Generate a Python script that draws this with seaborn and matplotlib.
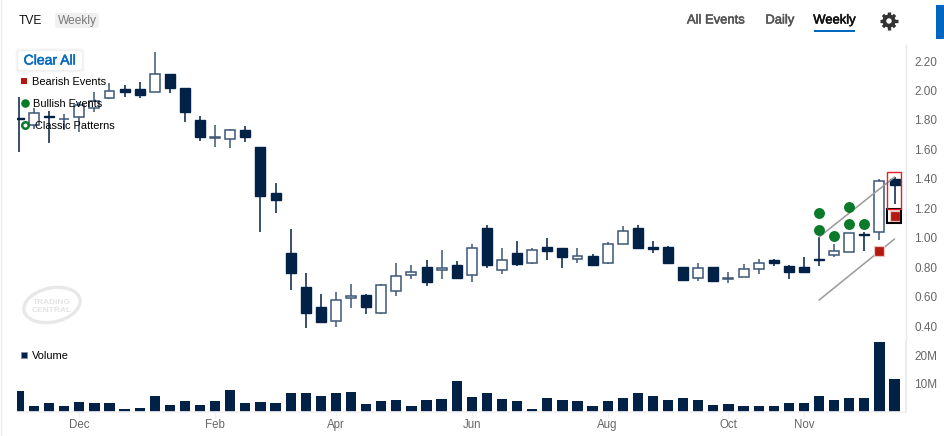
import matplotlib
matplotlib.use("Agg")
import matplotlib.pyplot as plt
import matplotlib.patheffects as pe
from matplotlib.patches import Rectangle, Ellipse, FancyBboxPatch, Circle
import numpy as np
import pandas as pd
import seaborn as sns

highs = [1.955,1.881,1.860,1.840,1.921,1.989,2.051,2.037,2.057,2.261,2.112,2.017,1.826,1.765,1.738,1.758,1.616,1.371,1.059,0.760,
         0.617,0.631,0.685,0.617,0.685,0.828,0.814,0.848,0.916,0.841,0.957,1.086,0.930,0.977,0.930,0.998,0.930,0.930,0.889,0.970,
         1.079,1.086,0.977,0.943,0.801,0.828,0.801,0.767,0.821,0.855,0.855,0.814,0.869,1.004,0.957,1.032,1.038,1.398,1.412]
lows = [1.582,1.738,1.643,1.731,1.718,1.854,1.942,1.955,1.949,1.989,1.983,1.786,1.657,1.616,1.609,1.650,1.038,1.167,0.644,0.386,
        0.427,0.393,0.522,0.481,0.481,0.604,0.719,0.672,0.719,0.726,0.699,0.794,0.753,0.807,0.821,0.848,0.794,0.828,0.807,0.821,
        0.957,0.930,0.896,0.821,0.712,0.706,0.706,0.692,0.733,0.753,0.807,0.719,0.760,0.807,0.869,0.903,0.909,0.984,1.229]
opens = [1.816,1.765,1.826,1.803,1.820,1.881,1.949,2.010,2.010,1.989,2.112,2.017,1.799,1.677,1.670,1.731,1.616,1.303,0.896,0.665,
         0.529,0.434,0.590,0.610,0.488,0.638,0.746,0.801,0.780,0.814,0.746,1.066,0.780,0.896,0.828,0.936,0.930,0.855,0.875,0.828,
         0.957,1.066,0.936,0.936,0.801,0.726,0.801,0.719,0.733,0.787,0.848,0.807,0.801,0.855,0.882,0.903,1.025,1.038,1.398]
closes = [1.809,1.847,1.820,1.808,1.901,1.928,1.996,1.989,1.969,2.112,2.017,1.854,1.684,1.684,1.731,1.684,1.283,1.256,0.760,0.488,
          0.427,0.576,0.604,0.529,0.678,0.740,0.767,0.699,0.794,0.726,0.930,0.814,0.848,0.821,0.916,0.909,0.869,0.875,0.814,0.957,
          1.045,0.930,0.923,0.828,0.712,0.794,0.706,0.726,0.787,0.828,0.828,0.767,0.767,0.848,0.909,1.032,1.018,1.385,1.358]
volumes_m = [7.3,1.8,3.2,2.0,3.5,3.0,3.2,1.0,1.1,5.6,2.3,3.6,2.5,3.9,7.6,3.0,3.5,3.0,6.7,6.5,
             5.4,6.7,7.0,2.6,3.8,4.2,1.8,4.3,4.4,11.0,5.1,6.7,4.4,3.6,1.0,5.0,4.3,3.8,1.8,3.8,
             5.0,6.6,5.6,4.3,4.9,4.1,2.5,2.7,1.8,1.9,1.9,3.0,2.9,5.6,4.2,4.9,4.7,25.0,11.8]
month_pos = [4, 13, 21, 30, 39, 47, 52]
month_labels = ["Dec", "Feb", "Apr", "Jun", "Aug", "Oct", "Nov"]
price_ticks = [0.40, 0.60, 0.80, 1.00, 1.20, 1.40, 1.60, 1.80, 2.00, 2.20]
volume_ticks = [10, 20]
volume_tick_labels = ["10M", "20M"]
bull_x = [53, 53, 54, 55, 55, 56]
bull_y = [1.167, 1.052, 1.011, 1.208, 1.093, 1.093]
bear_x = [57, 58]
bear_y = [0.909, 1.147]
channel_x = [53, 58]
channel_upper = [1.004, 1.412]
channel_lower = [0.576, 0.991]

W, H = 944, 436
NAVY = "#012146"
SLATE = "#3d5678"
GREEN = "#0b7a2a"
RED = "#b5170c"
BLUE = "#0067c0"
TICK = "#666666"

sns.set_theme(style="white", rc={"axes.facecolor": "none", "figure.facecolor": "white"})
plt.rcParams["font.family"] = ["Liberation Sans", "DejaVu Sans"]

fig = plt.figure(figsize=(W / 100, H / 100), dpi=100)


def px_axes(left, top, right, bottom):
    return fig.add_axes([left / W, 1 - bottom / H, (right - left) / W, (bottom - top) / H])


XMIN, XMAX = -0.126, 58.76
ax = px_axes(17, 45, 906, 340)
vax = px_axes(17, 341, 906, 411.5)

frame = pd.DataFrame({"i": np.arange(len(opens)), "open": opens, "close": closes,
                      "high": highs, "low": lows, "vol": volumes_m})
frame["top"] = frame[["open", "close"]].max(axis=1)
frame["bottom"] = frame[["open", "close"]].min(axis=1)
frame["up"] = frame["close"] > frame["open"]
W_BODY = 0.66

# wicks
for is_up, g in frame.groupby("up"):
    ax.vlines(g["i"], g["low"], g["high"], color=SLATE if is_up else NAVY, lw=1.1, zorder=2)
# bodies
dn = frame[~frame["up"]]
ax.bar(dn["i"], dn["top"] - dn["bottom"], bottom=dn["bottom"], width=W_BODY,
       color=NAVY, edgecolor=NAVY, lw=1.0, zorder=3)
up = frame[frame["up"]]
ax.bar(up["i"], up["top"] - up["bottom"], bottom=up["bottom"], width=W_BODY,
       color="white", edgecolor=SLATE, lw=1.1, zorder=3)

# channel lines
sns.lineplot(x=channel_x, y=channel_upper, ax=ax, color="#9a9a9a", lw=1.1, zorder=4)
sns.lineplot(x=channel_x, y=channel_lower, ax=ax, color="#9a9a9a", lw=1.1, zorder=4)

# events
sns.scatterplot(x=bull_x, y=bull_y, ax=ax, color=GREEN, s=62, linewidth=0, zorder=5)
sns.scatterplot(x=bear_x, y=bear_y, ax=ax, color=RED, marker="s", s=52, linewidth=0.9,
                edgecolor="#e8c8c4", zorder=5)
ax.add_patch(Rectangle((57.52, 1.100), 0.94, 0.095, fill=False, ec="black", lw=1.5, zorder=6))
ax.add_patch(Rectangle((57.52, 1.195), 0.94, 0.251, fill=False, ec="#ee1c25", lw=1.0, zorder=6))

ax.set_xlim(XMIN, XMAX)
ax.set_ylim(0.305, 2.309)
ax.yaxis.tick_right()
ax.set_yticks(price_ticks)
ax.set_yticklabels([f"{t:.2f}" for t in price_ticks])
ax.set_xticks([])
ax.tick_params(axis="y", right=True, length=4, width=1, color="#ececec", labelcolor=TICK,
               labelsize=8.5, pad=2)
sns.despine(ax=ax, left=True, bottom=True, top=True, right=False)
ax.spines["right"].set_color("#e8e8e8")
ax.spines["right"].set_linewidth(1)

# volume
sns.barplot(data=frame, x="i", y="vol", ax=vax, native_scale=True, color=NAVY, saturation=1,
            width=0.68, errorbar=None, linewidth=0)
vax.set_xlim(XMIN, XMAX)
vax.set_ylim(0, 25.27)
vax.set_xlabel("")
vax.set_ylabel("")
vax.yaxis.tick_right()
vax.set_yticks(volume_ticks)
vax.set_yticklabels(volume_tick_labels)
vax.set_xticks(month_pos)
vax.set_xticklabels(month_labels)
vax.tick_params(axis="y", right=True, length=4, width=1, color="#ececec", labelcolor=TICK,
                labelsize=8.5, pad=2)
vax.tick_params(axis="x", bottom=True, length=4, width=1, color="#f0f0f0", labelcolor=TICK,
                labelsize=8.3, pad=1.5)
sns.despine(ax=vax, left=True, top=True, right=False, bottom=False)
vax.spines["right"].set_color("#e8e8e8")
vax.spines["bottom"].set_color("#f2f2f2")

# page chrome in pixel coordinates
ov = fig.add_axes([0, 0, 1, 1], zorder=10)
ov.set_xlim(0, W)
ov.set_ylim(H, 0)
ov.axis("off")

PT = 0.72


def medium(color):
    return [pe.withStroke(linewidth=0.4, foreground=color)]


ov.plot([1, 1], [0, H], color="#efefef", lw=1)

# watermark
ov.add_patch(Ellipse((52, 305), 57, 34, angle=-12, fill=False, ec="#e8e8e8", lw=2.4))
ov.text(52, 302, "TRADING", ha="center", va="center", fontsize=6, fontweight="bold", color="#e4e4e4")
ov.text(52, 310.5, "CENTRAL", ha="center", va="center", fontsize=6, fontweight="bold", color="#e4e4e4")

# header
ov.text(19, 21, "TVE", fontsize=12 * PT, color="#111111", va="center")
ov.add_patch(FancyBboxPatch((55, 13), 44, 15, boxstyle="round,pad=0,rounding_size=3", fc="#f0f0f0", ec="none"))
ov.text(77, 21, "Weekly", fontsize=12 * PT, color="#7a7a7a", va="center", ha="center")
ov.text(716, 20.5, "All Events", fontsize=13 * PT, color="#555555", va="center", ha="center",
        path_effects=medium("#555555"))
ov.text(780, 20.5, "Daily", fontsize=13 * PT, color="#555555", va="center", ha="center",
        path_effects=medium("#555555"))
ov.text(834.5, 20.5, "Weekly", fontsize=13 * PT, color="#111111", va="center", ha="center",
        path_effects=medium("#111111"))
ov.add_patch(Rectangle((814, 30), 41, 2, fc=BLUE, ec="none"))
# settings gear
GEAR = "#333333"
for a in np.arange(8) * np.pi / 4:
    ov.plot([889 + 5 * np.cos(a), 889 + 8.6 * np.cos(a)], [21 + 5 * np.sin(a), 21 + 8.6 * np.sin(a)],
            color=GEAR, lw=2.4, solid_capstyle="butt")
ov.add_patch(Circle((889, 21), 6.6, fc=GEAR, ec="none"))
ov.add_patch(Circle((889, 21), 2.7, fc="white", ec="none"))
ov.add_patch(Rectangle((936, 5), 8, 34, fc=BLUE, ec="none"))

# clear all button
for pad, col in ((2.5, "#f6f6f6"), (1.2, "#efefef")):
    ov.add_patch(FancyBboxPatch((18 - pad, 51 - pad), 64 + 2 * pad, 19 + 2 * pad,
                                boxstyle="round,pad=0,rounding_size=4", fc=col, ec="none"))
ov.add_patch(FancyBboxPatch((18, 51), 64, 19, boxstyle="round,pad=0,rounding_size=3", fc="white", ec="none"))
ov.text(50, 60.5, "Clear All", fontsize=14 * PT, color="#0a6cc0", va="center", ha="center",
        path_effects=medium("#0a6cc0"))

# legend
ov.scatter([24.3], [81], marker="s", s=22, color=RED, linewidths=0)
ov.text(32, 82, "Bearish Events", fontsize=11 * PT, color="black", va="center")
ov.scatter([25], [103], marker="o", s=38, color=GREEN, linewidths=0)
ov.text(33, 104, "Bullish Events", fontsize=11 * PT, color="black", va="center")
ov.scatter([25], [125], marker="o", s=22, facecolor="white", edgecolor=GREEN, linewidths=1.8)
ov.text(35, 126, "Classic Patterns", fontsize=11 * PT, color="black", va="center")
ov.scatter([24.3], [355], marker="s", s=22, color=NAVY, linewidths=0.5, edgecolor="#7d8da3")
ov.text(32, 356, "Volume", fontsize=11 * PT, color="black", va="center")

fig.savefig("out.png", dpi=100)
